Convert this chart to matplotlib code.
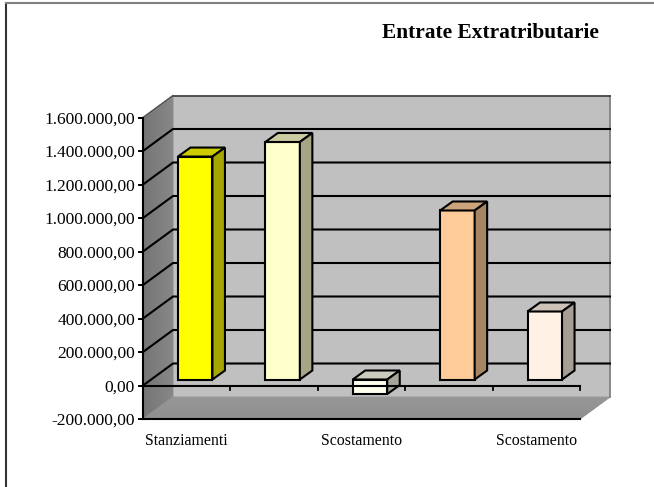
import matplotlib
matplotlib.use('Agg')
import matplotlib.pyplot as plt
import numpy as np
from matplotlib.patches import Polygon

values = [1331000, 1418000, -87000, 1009000, 406000]
front_colors = ['#FFFF00', '#FFFFCC', '#FFFFEE', '#FFCC99', '#FFF2E5']
top_colors = ['#CCCC00', '#CCCCA3', '#CCCCBE', '#CCA37A', '#CCC2B7']
side_colors = ['#A6A600', '#A6A685', '#A6A69B', '#A68563', '#A69D95']
category_labels = ['Stanziamenti', 'Scostamento', 'Scostamento']
label_positions = [0.5, 2.5, 4.5]
y_ticks = [-200000, 0, 200000, 400000, 600000, 800000, 1000000, 1200000, 1400000, 1600000]
y_labels = ['-200.000,00', '0,00', '200.000,00', '400.000,00', '600.000,00', '800.000,00',
            '1.000.000,00', '1.200.000,00', '1.400.000,00', '1.600.000,00']

W, H = 654, 487
# front plane of the 3d box, pixels
left, right, top, bottom = 143, 580, 117.5, 419

plt.rcParams['font.family'] = ['Liberation Serif']
fig = plt.figure(figsize=(W / 100, H / 100), dpi=100)
ax = fig.add_axes([left / W, 1 - bottom / H, (right - left) / W, (bottom - top) / H])
ax.set_xlim(0, 5)
ax.set_ylim(-200000, 1600000)
ax.axis('off')

px = 5 / (right - left)
py = 1800000 / (bottom - top)
dx, dy = 30 * px, 22 * py      # depth of the box


def poly(pts, color, lw=0.0, ec='none', z=1):
    ax.add_patch(Polygon(pts, closed=True, fc=color, ec=ec, lw=lw, clip_on=False, zorder=z,
                         joinstyle='miter'))


ymin, ymax = -200000, 1600000
# walls
poly([(dx, ymin + dy), (5 + dx, ymin + dy), (5 + dx, ymax + dy), (dx, ymax + dy)], '#C0C0C0')
ax.plot([5 + dx, 5 + dx], [ymin + dy, ymax + dy], color='#808080', lw=1.3, clip_on=False, zorder=1.5)
ax.plot([dx, 5 + dx], [ymax + dy, ymax + dy], color='#444444', lw=1.3, clip_on=False, zorder=1.5)

# side wall and floor with a soft shade, drawn as strips
n = 30
for i in range(n):
    a, b = i / n, (i + 1) / n
    g = 0.46 + 0.07 * a
    c = (g, g, g)
    poly([(a * dx, ymin + a * dy), (b * dx, ymin + b * dy), (b * dx, ymax + b * dy), (a * dx, ymax + a * dy)],
         c, 0.6, c)
for i in range(n):
    a, b = i / n, (i + 1) / n
    g = 0.56 + 0.03 * a
    c = (g, g, g)
    poly([(a * dx, ymin + a * dy), (5 + a * dx, ymin + a * dy), (5 + b * dx, ymin + b * dy), (b * dx, ymin + b * dy)],
         c, 0.6, c, 1.1)
ax.plot([0, dx], [ymax, ymax + dy], color='#555555', lw=1.0, clip_on=False, zorder=1.5)

# gridlines on side wall and back wall
for t in y_ticks[1:-1]:
    ax.plot([0, dx, 5 + dx], [t, t + dy, t + dy], color='black', lw=1.5, clip_on=False, zorder=2,
            solid_joinstyle='miter')
ax.plot([0, 0], [ymin, ymax], color='black', lw=1.5, clip_on=False, zorder=2)
ax.plot([0, 5], [ymin, ymin], color='black', lw=1.5, clip_on=False, zorder=2)

# y ticks and labels
for t, lab in zip(y_ticks, y_labels):
    ax.plot([-4 * px, 0], [t, t], color='black', lw=1.4, clip_on=False, zorder=2)
    ax.text(-8 * px, t - 2 * py, lab, ha='right', va='center', fontsize=12.5, color='black', clip_on=False)

# bars
bar_w = 34.5 * px
off_x, off_y = 8.5 * px, 6 * py
bd_x, bd_y = 12.5 * px, 9 * py
for i, (v, fc, tc, sc) in enumerate(zip(values, front_colors, top_colors, side_colors)):
    x0 = i + 0.5 - bar_w / 2 + off_x
    x1 = x0 + bar_w
    y0, y1 = off_y, v + off_y
    hi = max(y0, y1)
    lo = min(y0, y1)
    z = 3
    poly([(x0, lo), (x1, lo), (x1, hi), (x0, hi)], fc, 1.5, 'black', z)
    poly([(x0, hi), (x1, hi), (x1 + bd_x, hi + bd_y), (x0 + bd_x, hi + bd_y)], tc, 1.5, 'black', z)
    poly([(x1, lo), (x1 + bd_x, lo + bd_y), (x1 + bd_x, hi + bd_y), (x1, hi)], sc, 1.5, 'black', z)

# zero line and category ticks in front of the bars
ax.plot([0, 5], [0, 0], color='black', lw=1.5, clip_on=False, zorder=4)
for c in range(1, 6):
    ax.plot([c, c], [0, -4 * py], color='black', lw=1.3, clip_on=False, zorder=4)

for p, lab in zip(label_positions, category_labels):
    ax.text(p, -200000 - 22 * py, lab, ha='center', va='center', fontsize=11.4, color='black', clip_on=False)

fig.text(490 / W, 1 - 32.5 / H, 'Entrate Extratributarie', ha='center', va='center',
         fontsize=15.4, fontweight='bold', color='black')

# frame of the chart area, only two sides visible
fig.add_artist(plt.Line2D([6 / W, 6 / W], [0, 1 - 3 / H], color='#333333', lw=1.5))
fig.add_artist(plt.Line2D([6 / W, 1], [1 - 3 / H, 1 - 3 / H], color='#808080', lw=1.5))

fig.savefig('out.png', dpi=100)
